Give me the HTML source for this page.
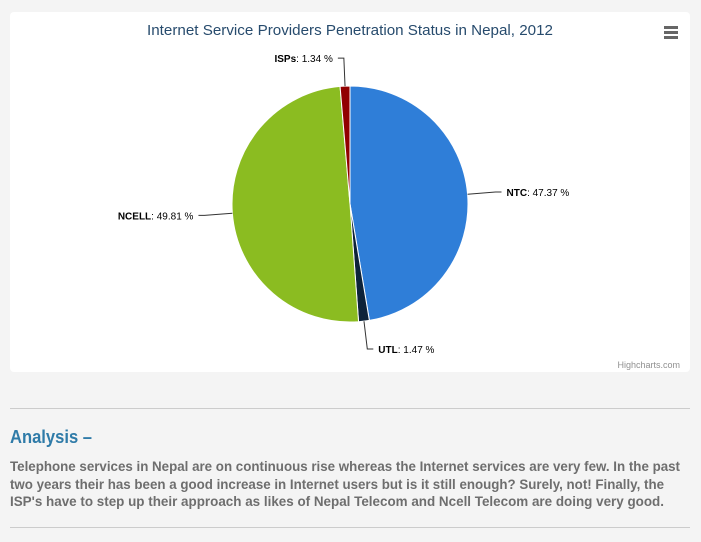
<!DOCTYPE html>
<html><head><meta charset="utf-8">
<style>
body{margin:0;width:701px;height:542px;background:#f4f4f4;font-family:"Liberation Sans",sans-serif;overflow:hidden;position:relative}
#panel{position:absolute;left:10px;top:12px;width:680px;height:360px;background:#fff;border-radius:4px}
.hr{position:absolute;left:10px;width:680px;height:1px;background:#cccccc}
</style></head><body>
<div id="panel"></div>
<svg id="chart" width="701" height="542" style="position:absolute;left:0;top:0">
<text x="350" y="35" text-anchor="middle" font-size="15" fill="#274b6d" textLength="406" lengthAdjust="spacingAndGlyphs">Internet Service Providers Penetration Status in Nepal, 2012</text>
<g>
<rect x="664" y="26" width="14" height="3" fill="#666"/><rect x="664" y="31" width="14" height="3" fill="#666"/><rect x="664" y="36" width="14" height="3" fill="#666"/>
</g>
<g id="slices"></g><g id="labels"></g>
<text x="680" y="368" text-anchor="end" font-size="9" fill="#909090">Highcharts.com</text>
</svg>
<svg width="701" height="140" style="position:absolute;left:0;top:400px">
<text x="10" y="43" font-size="18" font-weight="bold" fill="#2f7ba8" textLength="82" lengthAdjust="spacingAndGlyphs">Analysis –</text>
<g font-size="14" font-weight="bold" fill="#6e6e6e">
<text x="10" y="71" textLength="670" lengthAdjust="spacingAndGlyphs">Telephone services in Nepal are on continuous rise whereas the Internet services are very few. In the past</text>
<text x="10" y="89" textLength="654" lengthAdjust="spacingAndGlyphs">two years their has been a good increase in Internet users but is it still enough? Surely, not! Finally, the</text>
<text x="10" y="106" textLength="654" lengthAdjust="spacingAndGlyphs">ISP's have to step up their approach as likes of Nepal Telecom and Ncell Telecom are doing very good.</text>
</g>
</svg>
<div class="hr" style="top:408px"></div>
<div class="hr" style="top:527px"></div>
<script>
const categories=["NTC","UTL","NCELL","ISPs"];
const values=[47.37,1.47,49.81,1.34];
const colors=["#2f7ed8","#0d233a","#8bbc21","#910000"];
const cx=350,cy=204,r=118,NS="http://www.w3.org/2000/svg";
const total=values.reduce((a,b)=>a+b,0);
const gs=document.getElementById('slices'),gl=document.getElementById('labels');
function pt(a,rad){return [cx+rad*Math.sin(a),cy-rad*Math.cos(a)];}
let start=0;
values.forEach((v,i)=>{
  const ang=v/total*2*Math.PI,end=start+ang;
  const p1=pt(start,r),p2=pt(end,r);
  const path=document.createElementNS(NS,'path');
  path.setAttribute('d',`M${cx},${cy}L${p1[0]},${p1[1]}A${r},${r} 0 ${ang>Math.PI?1:0} 1 ${p2[0]},${p2[1]}Z`);
  path.setAttribute('fill',colors[i]);path.setAttribute('stroke','#fff');path.setAttribute('stroke-width','1');
  
  
  gs.appendChild(path);
  const mid=(start+end)/2,right=Math.sin(mid)>=0;
  const e=pt(mid,r),o=pt(mid,r+28);
  const ex=o[0]+(right?6:-6);
  const ln=document.createElementNS(NS,'path');
  ln.setAttribute('d',`M${e[0]},${e[1]}L${o[0]},${o[1]}L${ex},${o[1]}`);
  ln.setAttribute('fill','none');ln.setAttribute('stroke','#333');ln.setAttribute('stroke-width','1');
  
  
  gl.appendChild(ln);
  const t=document.createElementNS(NS,'text');
  t.setAttribute('x',ex+(right?5:-5));t.setAttribute('y',o[1]+4);
  t.setAttribute('text-anchor',right?'start':'end');t.setAttribute('font-size','10');t.setAttribute('fill','#000');
  t.innerHTML=`<tspan font-weight="bold">${categories[i]}</tspan>: ${values[i].toFixed(2)} %`;
  
  
  gl.appendChild(t);
  start=end;
});
</script>
</body></html>
